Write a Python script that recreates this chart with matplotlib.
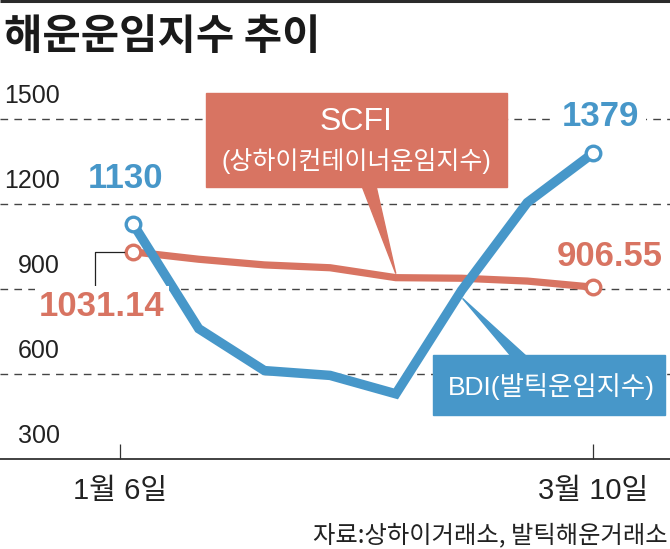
import matplotlib
matplotlib.use('Agg')
import matplotlib.pyplot as plt
from matplotlib.patches import Rectangle, Polygon
import numpy as np

bdi = [1130, 760, 612, 595, 530, 895, 1205, 1379]
scfi = [1031.14, 1005, 985, 975, 940, 938, 928, 906.55]
y_ticks = [300, 600, 900, 1200, 1500]
x_tick_labels = ['1월 6일', '3월 10일']
bdi_name = 'BDI(발틱운임지수)'
scfi_name = ['SCFI', '(상하이컨테이너운임지수)']
title = '해운운임지수 추이'
source = '자료:상하이거래소, 발틱해운거래소'

KR = 'Noto Sans CJK KR'
MIX = ['Liberation Sans', KR, 'DejaVu Sans']

BLUE = '#4797c9'
RED = '#d87462'
INK = '#222222'

W, H = 670, 549
fig = plt.figure(figsize=(W / 100, H / 100), dpi=100)

# main axes: x 0..670 px, y 459..100 px (300 at the base line)
top_px, base_px = 100, 459
ax = fig.add_axes([0, (H - base_px) / H, 1, (base_px - top_px) / H])
step = 65.71
first_x = 133
ax.set_xlim(-first_x / step, (W - first_x) / step)
ax.set_ylim(300, 300 + (base_px - top_px) * 300 / 85)

for v in y_ticks[1:]:
    ax.axhline(v, color='#444444', lw=1.0, dashes=(5.5, 4.5), zorder=1)

x = np.arange(len(bdi))
ax.plot(x, scfi, color=RED, lw=5.2, solid_joinstyle='miter', zorder=3)
ax.plot(x, bdi, color=BLUE, lw=6.8, solid_joinstyle='miter', zorder=4)
ends = [0, len(x) - 1]
ax.plot(x[ends], np.array(scfi)[ends], 'o', ms=10.5, mew=2.4, mfc='white',
        mec=RED, zorder=5)
ax.plot(x[ends], np.array(bdi)[ends], 'o', ms=10.5, mew=2.4, mfc='white',
        mec=BLUE, zorder=5)

for s in ['top', 'right', 'left']:
    ax.spines[s].set_visible(False)
ax.spines['bottom'].set_color('#333333')
ax.spines['bottom'].set_linewidth(1.3)
ax.set_yticks([])
ax.set_xticks([-0.2, len(x) - 1])
ax.set_xticklabels(x_tick_labels, family=MIX, fontsize=21, color=INK)
ax.tick_params(axis='x', direction='in', length=11, width=0.9,
               color='#333333', pad=13)
ax.patch.set_alpha(0)

# overlay in pixel coordinates (top-left origin) for annotations
ov = fig.add_axes([0, 0, 1, 1], zorder=10)
ov.set_xlim(0, W)
ov.set_ylim(H, 0)
ov.axis('off')


def to_px(xv, yv):
    dx, dy = ax.transData.transform((xv, yv))
    return dx, H - dy


# frame line at the top
ov.plot([0, W], [1.2, 1.2], color='#2b2b2b', lw=2.2, solid_capstyle='butt')

ov.text(4, 37, title, family=[KR], fontsize=30, fontweight='bold',
        color='#1a1a1a', ha='left', va='center')

# y labels sit above their grid lines
for v in y_ticks:
    _, py = to_px(0, v)
    ov.text(60, py - 23, str(v), family=MIX, fontsize=18, color=INK,
            ha='right', va='center')

# SCFI label box + pointer
ov.add_patch(Rectangle((206, 93), 301, 94, color=RED, zorder=2))
tx, ty = to_px(4, scfi[4])
ov.add_patch(Polygon([(362, 186), (376, 186), (tx, ty - 4)], closed=True,
                     color=RED, zorder=2))
ov.text(356, 122, scfi_name[0], family=MIX, fontsize=23, color='white',
        ha='center', va='center', zorder=3)
ov.text(356, 161, scfi_name[1], family=MIX, fontsize=18, color='white',
        ha='center', va='center', zorder=3)

# BDI label box + pointer
ov.add_patch(Rectangle((433, 355), 232, 60, color=BLUE, zorder=2))
tx, ty = to_px(5, bdi[5])
ov.add_patch(Polygon([(tx + 1, ty + 8), (511, 356), (526, 356)], closed=True,
                     color=BLUE, zorder=2))
ov.text(551, 386, bdi_name, family=MIX, fontsize=19, color='white',
        ha='center', va='center', zorder=3)

# end-point value labels
lab = dict(family=MIX, fontsize=25, fontweight='bold', ha='center',
           va='center')
ov.text(126, 178, f'{bdi[0]:g}', color=BLUE, **lab)
ov.text(600, 117, f'{bdi[-1]:g}', color=BLUE,
        bbox=dict(fc='white', ec='none', pad=5), **lab)
ov.text(610, 256, f'{scfi[-1]:.2f}', color=RED, **lab)
ov.text(102, 307, f'{scfi[0]:.2f}', color=RED,
        bbox=dict(fc='white', ec='none', pad=3), **lab)

# leader line from the first SCFI point to its label
mx, my = to_px(0, scfi[0])
ov.plot([mx - 9, 95, 95], [my, my, my + 33], color='#222222', lw=0.9,
        zorder=1)

ov.text(668, 535, source, family=[KR], fontsize=17.5, color=INK,
        ha='right', va='center')

fig.savefig('out.png', dpi=100)
